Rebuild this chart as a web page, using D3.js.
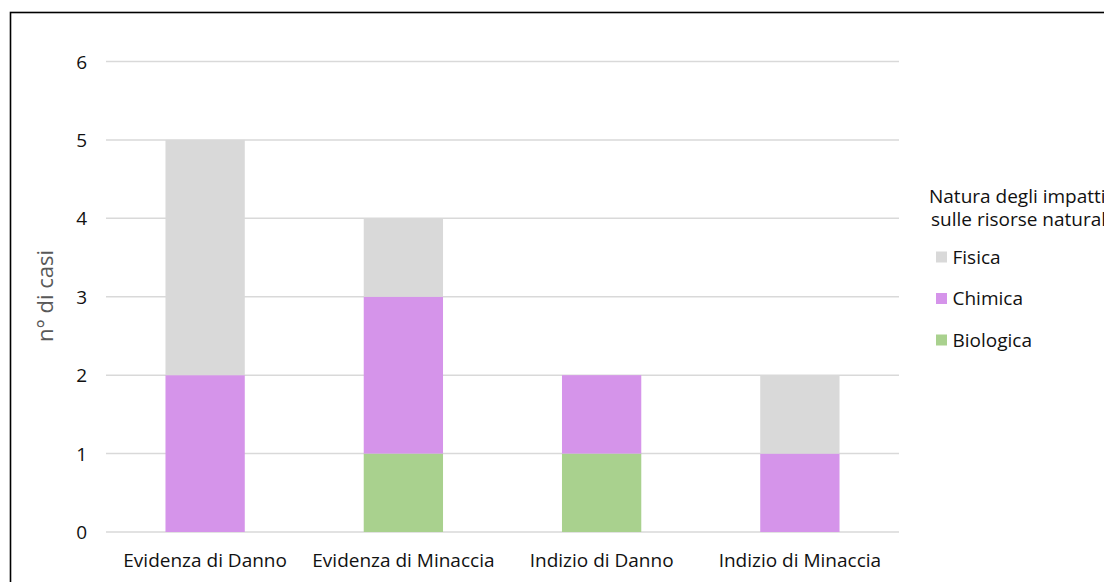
<!DOCTYPE html>
<html><head><meta charset="utf-8">
<script src="https://cdn.jsdelivr.net/npm/d3@7"></script>
<style>body{margin:0;background:#fff}svg{display:block}text{font-family:"Open Sans",sans-serif}</style>
</head><body><svg id="c" width="1104" height="582"></svg>
<script>
const categories = ["Evidenza di Danno","Evidenza di Minaccia","Indizio di Danno","Indizio di Minaccia"];
const seriesNames = ["Biologica","Chimica","Fisica"];
const biologica = [0,1,1,0];
const chimica = [2,2,1,1];
const fisica = [3,1,0,1];
const yTicks = [0,1,2,3,4,5,6];
const legendOrder = ["Fisica","Chimica","Biologica"];
const colors = {Biologica:"#a9d18e", Chimica:"#d594ea", Fisica:"#d9d9d9"};

const svg = d3.select("#c");
svg.append("rect").attr("x",10.5).attr("y",12.5).attr("width",1200).attr("height",700)
  .attr("fill","#fff").attr("stroke","#000").attr("stroke-width",1.6);

const x = d3.scaleBand().domain(categories).range([106,899]).padding(0);
const y = d3.scaleLinear().domain([0,6]).range([532,61.5]);

const g = svg.append("g");
g.selectAll("line.grid").data(yTicks).join("line").attr("class","grid")
  .attr("x1",106).attr("x2",899).attr("y1",d=>y(d)).attr("y2",d=>y(d))
  .attr("stroke","#d9d9d9").attr("stroke-width",1.5);

const table = categories.map((c,i)=>({cat:c, Biologica:biologica[i], Chimica:chimica[i], Fisica:fisica[i]}));
const stack = d3.stack().keys(seriesNames)(table);
const bw = x.bandwidth()*0.4;
g.selectAll("g.s").data(stack).join("g").attr("fill",d=>colors[d.key])
  .selectAll("rect").data(d=>d).join("rect")
  .attr("x",d=>x(d.data.cat)+(x.bandwidth()-bw)/2).attr("width",bw)
  .attr("y",d=>y(d[1])).attr("height",d=>y(d[0])-y(d[1]));

const FS = 19;
const yAxis = d3.axisLeft(y).tickValues(yTicks).tickSize(0).tickPadding(0).tickFormat(d3.format("d"));
const ya = svg.append("g").attr("transform","translate(87,0)").call(yAxis);
ya.select(".domain").remove();
ya.selectAll("text").attr("font-size",FS).attr("fill","#111").attr("font-family","Open Sans").attr("dy","0.35em");

const xAxis = d3.axisBottom(x).tickSize(0).tickPadding(0);
const xa = svg.append("g").attr("transform","translate(0,567)").call(xAxis);
xa.select(".domain").remove();
xa.selectAll("text").attr("font-size",FS).attr("fill","#111").attr("font-family","Open Sans").attr("dy",0);

svg.append("text").attr("transform","translate(53,296) rotate(-90)").attr("text-anchor","middle")
  .attr("font-size",22).attr("fill","#595959").text("n° di casi");

const lg = svg.append("g");
lg.append("text").attr("x",929).attr("y",203).attr("font-size",FS).attr("fill","#111").text("Natura degli impatti");
lg.append("text").attr("x",931).attr("y",226).attr("font-size",FS).attr("fill","#111").text("sulle risorse naturali");
const items = lg.selectAll("g.it").data(legendOrder).join("g").attr("class","it")
  .attr("transform",(d,i)=>`translate(936,${257+i*41.5})`);
items.append("rect").attr("x",0).attr("y",-5.5).attr("width",11).attr("height",11).attr("fill",d=>colors[d]);
items.append("text").attr("x",16.5).attr("y",0).attr("dy","0.36em").attr("font-size",FS).attr("fill","#111").text(d=>d);
</script></body></html>
